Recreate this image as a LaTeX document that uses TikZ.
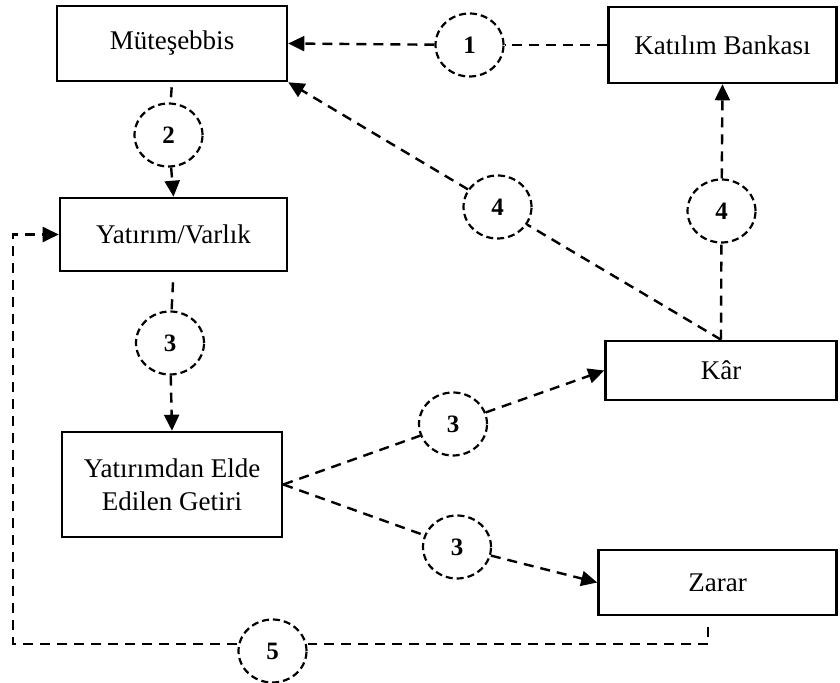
\documentclass[tikz,border=0pt]{standalone}
\usepackage{fontspec}
\setmainfont{Liberation Serif}
\usetikzlibrary{arrows.meta,shapes.geometric}

\begin{document}
\begin{tikzpicture}[x=0.5pt,y=-0.5pt,>={Triangle[length=8pt,width=7.5pt]},
  box/.style={draw,line width=1.3pt,inner sep=0pt,align=center,font=\fontsize{13.5}{16.5}\selectfont},
  num/.style={draw,ellipse,line width=1.1pt,dash pattern=on 3.5pt off 2pt,minimum width=34pt,minimum height=31.5pt,inner sep=0pt,font=\fontsize{12.5}{14}\selectfont\bfseries},
  link/.style={line width=1.2pt,dash pattern=on 5pt off 3.5pt}]
 \useasboundingbox (0,0) rectangle (840,683);
 \node[box,minimum width=115pt,minimum height=37.5pt] (mut) at (172,43.5) {Müteşebbis};
 \node[box,minimum width=114pt,minimum height=38pt] (kb) at (722.5,45) {Katılım Bankası};
 \node[box,minimum width=113.5pt,minimum height=36.5pt] (yv) at (173.5,234.5) {Yatırım/Varlık};
 \node[box,minimum width=110pt,minimum height=52.5pt] (get) at (172,484.5) {Yatırımdan Elde\\Edilen Getiri};
 \node[box,minimum width=115.5pt,minimum height=29.5pt] (kar) at (721,370.5) {Kâr};
 \node[box,minimum width=119pt,minimum height=32.5pt] (zr) at (717.5,582.5) {Zarar};
 \node[num] (c1) at (469.5,45) {1};
 \node[num] (c2) at (168.5,135) {2};
 \node[num] (c3a) at (170,343) {3};
 \node[num] (c3b) at (453,424) {3};
 \node[num] (c3c) at (457,547) {3};
 \node[num] (c4a) at (497.5,207) {4};
 \node[num] (c4b) at (721.5,211) {4};
 \node[num] (c5) at (272.5,651) {5};
 \coordinate (zb) at (708,627);
 \coordinate (zc) at (708,644);
 \coordinate (lb) at (13,644);
 \coordinate (lt) at (13,234.5);
 \draw[link] (kb.west) -- (c1);
 \draw[link,->] (c1) -- (mut.east);
 \draw[link,shorten <=2.5pt] (mut.south) -- (c2);
 \draw[link,->] (c2) -- (yv.north);
 \draw[link,shorten <=5pt] (yv.south) -- (c3a);
 \draw[link,->] (c3a) -- (get.north);
 \draw[link] (get.east) -- (c3b);
 \draw[link,->] (c3b) -- (kar.west);
 \draw[link] (get.east) -- (c3c);
 \draw[link,->] (c3c) -- (zr.west);
 \draw[link] (kar.north) -- (c4b);
 \draw[link,->] (c4b) -- (kb.south);
 \draw[link] (kar.north) -- (c4a);
 \draw[link,->] (c4a) -- (mut.south east);
 \draw[link] (zb) -- (zc) -- (c5.east |- zc);
 \draw[link,->] (c5.west |- lb) -- (lb) -- (lt) -- (yv.west);
\end{tikzpicture}
\end{document}
